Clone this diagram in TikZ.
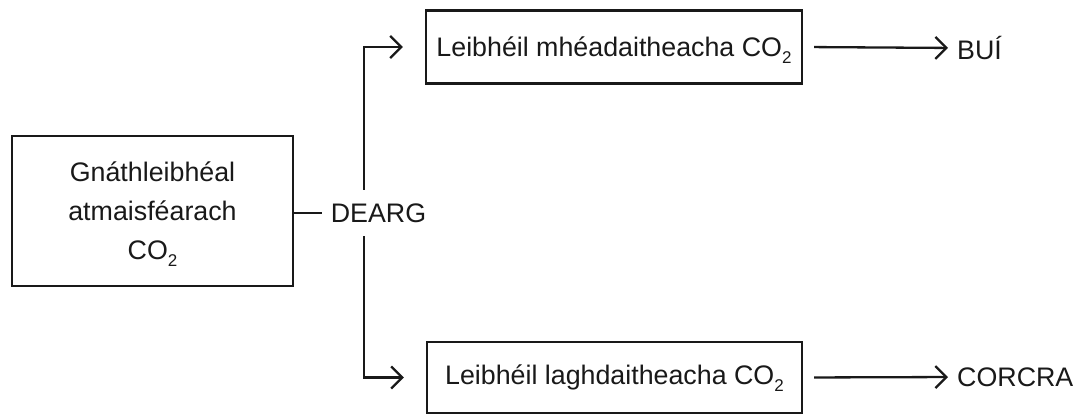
\documentclass[tikz,border=0pt]{standalone}
\usepackage{fontspec}
\setmainfont{Liberation Sans}
\usetikzlibrary{arrows.meta}
\newcommand{\cotwo}{CO\smash{\raisebox{-7pt}{\fontsize{17}{17}\selectfont 2}}}
\begin{document}
\begin{tikzpicture}[x=1pt,y=-1pt,
  every node/.style={font=\fontsize{26.8}{39}\selectfont, text=black!90},
  boxnode/.style={draw=black!90, line width=2.3pt, inner sep=0pt, align=center},
  conn/.style={draw=black!90, line width=2.3pt},
  arr/.style={conn, -{Straight Barb[length=11pt,width=22pt,line width=2.3pt]}},
  lbl/.style={inner sep=0pt, anchor=west}]
\useasboundingbox (0,0) rectangle (1075,414);
\node[boxnode, minimum width=281, minimum height=150] (src) at (152.5,211) {\raisebox{-3pt}{\parbox{260pt}{\centering Gnáthleibhéal\\atmaisféarach\\\cotwo}}};
\node[inner sep=0pt, minimum height=46, minimum width=97] (dearg) at (378.5,213) {DEARG};
\node[boxnode, minimum width=376, minimum height=73] (top) at (614,47) {Leibhéil mhéadaitheacha \cotwo};
\node[boxnode, minimum width=375, minimum height=71] (bot) at (614.5,377.5) {Leibhéil laghdaitheacha \cotwo};
\node[lbl] (bui) at (957,48) {BUÍ};
\node[lbl] (corcra) at (957,377) {CORCRA};
\coordinate (vx) at (364,0);
\draw[conn, shorten >=8pt] (src.east |- dearg.west) -- (dearg.west);
\draw[arr, shorten >=22pt] (dearg.north -| vx) |- (top.west);
\draw[arr, shorten >=22pt] (dearg.south -| vx) |- (bot.west);
\draw[arr, shorten <=11pt, shorten >=9pt] (top.east) -- (bui.west);
\draw[arr, shorten <=11pt, shorten >=9pt] (bot.east) -- (corcra.west);
\end{tikzpicture}
\end{document}
